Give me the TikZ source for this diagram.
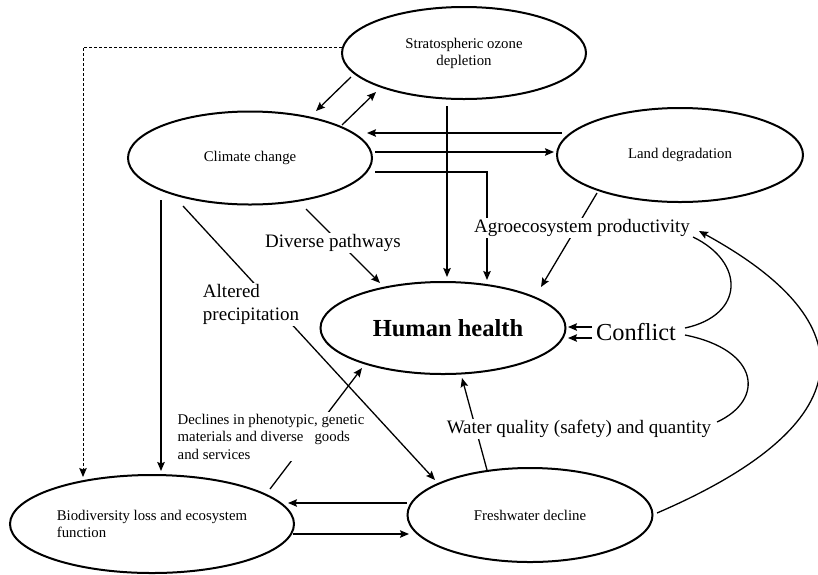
\documentclass[tikz,border=0pt]{standalone}
\usepackage{fontspec}
\setmainfont{Liberation Serif}
\usetikzlibrary{shapes.geometric,arrows.meta,backgrounds}
\begin{document}
\begin{tikzpicture}[x=1pt,y=-1pt,
  ell/.style={draw, ellipse, line width=2pt, inner sep=0pt, align=center,
              font=\fontsize{14.8}{17}\selectfont},
  lab/.style={fill=white, inner sep=1.5pt, font=\fontsize{19}{23}\selectfont},
  smalllab/.style={fill=white, inner sep=1.5pt, align=left, font=\fontsize{14.8}{17.5}\selectfont},
  ln/.style={line width=1.3pt},
  arr/.style={line width=1.3pt, -{Stealth[length=9pt,width=7.5pt,inset=1.5pt]}},
  dsh/.style={line width=0.9pt, dash pattern=on 3pt off 2pt, -{Stealth[length=9pt,width=7.5pt,inset=1.5pt]}}
  ]
\useasboundingbox (0,0) rectangle (818,574);

% ellipses
\node[ell, minimum width=244pt, minimum height=92pt] (ozone) at (464,53) {Stratospheric ozone\\depletion};
\node[ell, minimum width=244pt, minimum height=93pt] (climate) at (250,158) {Climate change};
\node[ell, minimum width=246pt, minimum height=94pt] (land) at (680,155) {Land degradation};
\node[ell, minimum width=245pt, minimum height=92pt, font=\bfseries\fontsize{24.5}{28}\selectfont] (human) at (443,328) {\hspace{10pt}Human health};
\node[ell, minimum width=284pt, minimum height=98pt, align=left] (bio) at (152,524) {Biodiversity loss and ecosystem\\function};
\node[ell, minimum width=245pt, minimum height=94pt] (fresh) at (530,515) {Freshwater decline};

% labels
\node[lab] (diverse) at (333,243) {Diverse pathways};
\node[lab, align=left] (altered) at (251,304.5) {Altered\\precipitation};
\node[lab] (agro) at (582,228) {Agroecosystem productivity};
\node[lab, font=\fontsize{24.4}{28}\selectfont] (conflict) at (636,332) {Conflict};
\node[lab] (water) at (579,429) {Water quality (safety) and quantity};
\node[smalllab] (declines) at (271,436.5) {Declines in phenotypic, genetic\\materials and diverse\ \ \ goods\\and services};

\begin{pgfonlayer}{background}
% dashed link ozone -> biodiversity
\draw[dsh] ([shift={(-122,-6)}]ozone.center) -| ([shift={(-69,-47)}]bio.center);
% ozone <-> climate
\draw[arr] ([shift={(-113,24)}]ozone.center) -- ([shift={(66,-47)}]climate.center);
\draw[arr] ([shift={(92,-33)}]climate.center) -- ([shift={(-88,39)}]ozone.center);
% land <-> climate
\draw[arr] ([shift={(-118,-22)}]land.center) -- ([shift={(117,-25)}]climate.center);
\draw[arr] ([shift={(125,-6)}]climate.center) -- ([shift={(-126,-3)}]land.center);
% climate -> human (elbow)
\draw[arr] ([shift={(125,14)}]climate.center) -| ([shift={(44,-48)}]human.center);
% ozone -> human
\draw[arr] ([shift={(-17,53)}]ozone.center) -- ([shift={(4,-51)}]human.center);
% land -> human (agroecosystem productivity)
\draw[arr] ([shift={(-83,38)}]land.center) -- ([shift={(98,-41)}]human.center);
% climate -> human (diverse pathways)
\draw[arr] ([shift={(56,51)}]climate.center) -- ([shift={(-63,-45)}]human.center);
% climate -> freshwater (altered precipitation)
\draw[arr] ([shift={(-67,48)}]climate.center) -- ([shift={(-95,-35)}]fresh.center);
% climate -> biodiversity
\draw[arr] ([shift={(-89,42)}]climate.center) -- ([shift={(9,-53)}]bio.center);
% biodiversity -> human (declines)
\draw[arr] ([shift={(118,-35)}]bio.center) -- ([shift={(-81,40)}]human.center);
% freshwater <-> biodiversity
\draw[arr] ([shift={(-123,-12)}]fresh.center) -- ([shift={(136,-21)}]bio.center);
\draw[arr] ([shift={(141,10)}]bio.center) -- ([shift={(-121,19)}]fresh.center);
% freshwater -> human (water quality)
\draw[arr] ([shift={(-43,-45)}]fresh.center) -- ([shift={(19,50)}]human.center);
% conflict -> human
\draw[arr] ([shift={(-44,-5)}]conflict.center) -- ([shift={(125,-1)}]human.center);
\draw[arr] ([shift={(-44,6)}]conflict.center) -- ([shift={(125,10)}]human.center);
% curves from conflict
\draw[ln] ([shift={(111,9)}]agro.center) .. controls (745,262) and (745,315) .. ([shift={(49,-4)}]conflict.center);
\draw[ln] ([shift={(49,3)}]conflict.center) .. controls (760,350) and (765,400) .. ([shift={(138,-7)}]water.center);
% freshwater -> agroecosystem productivity
\draw[arr] ([shift={(127,-2)}]fresh.center) .. controls (850,430) and (880,330) .. ([shift={(117,3)}]agro.center);
\end{pgfonlayer}
\end{tikzpicture}
\end{document}
